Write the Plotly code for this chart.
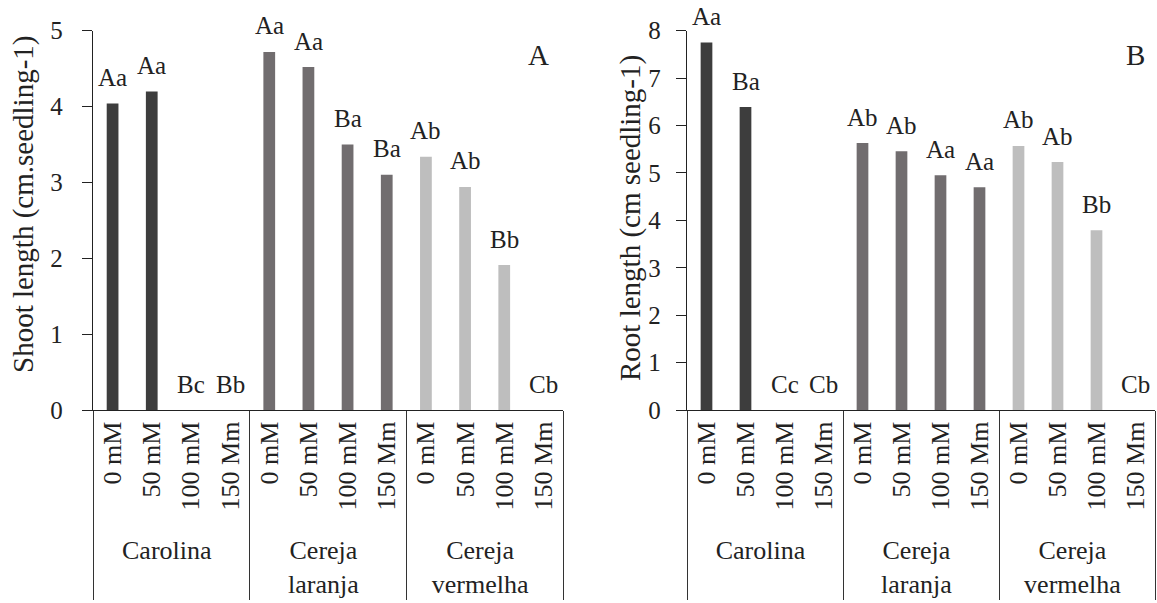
import plotly.graph_objects as go

cultivars = ["Carolina", "Cereja<br>laranja", "Cereja<br>vermelha"]
doses = ["0 mM", "50 mM", "100 mM", "150 Mm"]
shoot = [4.04, 4.20, 0, 0, 4.72, 4.52, 3.50, 3.10, 3.34, 2.94, 1.91, 0]
shoot_letters = ["Aa", "Aa", "Bc", "Bb", "Aa", "Aa", "Ba", "Ba", "Ab", "Ab", "Bb", "Cb"]
root = [7.75, 6.39, 0, 0, 5.63, 5.46, 4.95, 4.70, 5.57, 5.23, 3.79, 0]
root_letters = ["Aa", "Ba", "Cc", "Cb", "Ab", "Ab", "Aa", "Aa", "Ab", "Ab", "Bb", "Cb"]
cultivar_colors = ["#3d3d3d", "#716d6f", "#bebebe"]

FONT = "Liberation Serif, Times New Roman, Times, DejaVu Serif, serif"
TXT = "#222222"

W, H = 1157, 603


def fx(px):
    return px / W


def fy(py):
    return 1 - py / H


outer = [c for c in cultivars for d in doses]
inner = [d for c in cultivars for d in doses]
bar_colors = [cultivar_colors[i] for i, c in enumerate(cultivars) for d in doses]

fig = go.Figure()
fig.add_trace(go.Bar(x=[outer, inner], y=shoot, marker=dict(color=bar_colors, line=dict(width=0)),
                     width=0.3, xaxis="x", yaxis="y", showlegend=False))
fig.add_trace(go.Bar(x=[outer, inner], y=root, marker=dict(color=bar_colors, line=dict(width=0)),
                     width=0.3, xaxis="x2", yaxis="y2", showlegend=False))

annotations = []
for i, (v, t) in enumerate(zip(shoot, shoot_letters)):
    annotations.append(dict(x=i, y=v, xref="x", yref="y", text=t, showarrow=False,
                            xanchor="center", yanchor="middle", yshift=26,
                            font=dict(family=FONT, size=25, color=TXT)))
for i, (v, t) in enumerate(zip(root, root_letters)):
    annotations.append(dict(x=i, y=v, xref="x2", yref="y2", text=t, showarrow=False,
                            xanchor="center", yanchor="middle", yshift=26,
                            font=dict(family=FONT, size=25, color=TXT)))

annotations.append(dict(x=fx(538), y=fy(55), xref="paper", yref="paper", text="A",
                        xanchor="center", yanchor="middle", showarrow=False,
                        font=dict(family=FONT, size=29, color=TXT)))
annotations.append(dict(x=fx(1135), y=fy(55), xref="paper", yref="paper", text="B",
                        xanchor="center", yanchor="middle", showarrow=False,
                        font=dict(family=FONT, size=29, color=TXT)))
annotations.append(dict(x=fx(23), y=fy(205), xref="paper", yref="paper",
                        text="Shoot length (cm.seedling-1)", textangle=-90, showarrow=False,
                        xanchor="center", yanchor="middle",
                        font=dict(family=FONT, size=29, color=TXT)))
annotations.append(dict(x=fx(630), y=fy(218), xref="paper", yref="paper",
                        text="Root length (cm seedling-1)", textangle=-90, showarrow=False,
                        xanchor="center", yanchor="middle",
                        font=dict(family=FONT, size=29, color=TXT)))

xcommon = dict(type="multicategory", tickangle=-90, showline=True, linecolor="#222", linewidth=1.3,
               ticks="", showgrid=False, showdividers=True, dividercolor="#333", dividerwidth=1.3,
               tickfont=dict(family=FONT, size=26, color=TXT), automargin=False)
ycommon = dict(showline=True, linecolor="#222", linewidth=1.3, ticks="outside", ticklen=10,
               tickcolor="#222", tickwidth=1.3, showgrid=False, zeroline=False,
               tickfont=dict(family=FONT, size=25, color=TXT), automargin=False, dtick=1)

ydom = [fy(410), fy(30.7)]
fig.update_layout(
    width=W, height=H, margin=dict(l=0, r=0, t=0, b=0),
    paper_bgcolor="white", plot_bgcolor="white",
    xaxis=dict(domain=[fx(93), fx(563)], anchor="y", **xcommon),
    yaxis=dict(domain=ydom, anchor="x", range=[0, 5], ticklabelstandoff=14, **ycommon),
    xaxis2=dict(domain=[fx(687), fx(1155)], anchor="y2", **xcommon),
    yaxis2=dict(domain=ydom, anchor="x2", range=[0, 8], ticklabelstandoff=10, **ycommon),
    annotations=annotations,
)
fig.write_html("out.html", config={"displayModeBar": False},
               post_script="document.body.style.margin='0';")
